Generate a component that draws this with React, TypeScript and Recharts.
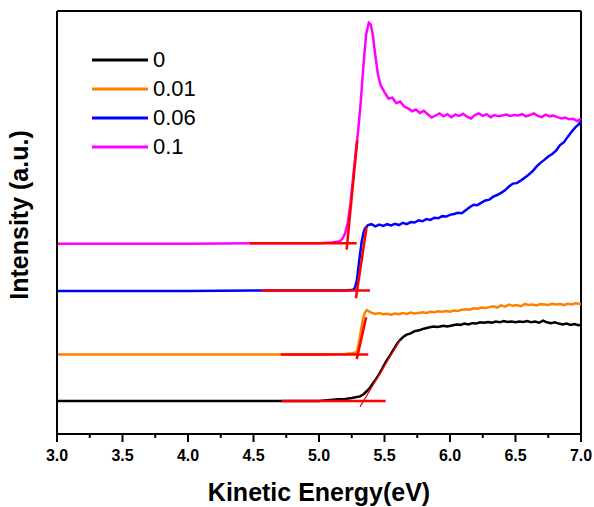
import React from 'react';
import { LineChart, Line, XAxis, YAxis, ReferenceLine, Legend } from 'recharts';

// kinetic energy (eV) / intensity (a.u.) pairs
const black0: [number, number][] = [
  [3.0, 7.8], [4.0, 7.8], [4.5, 7.8], [5.0, 7.8], [5.147, 8.2], [5.2, 8.3], [5.25, 8.5], [5.313, 8.9],
  [5.34, 9.4], [5.364, 10.1], [5.39, 11.0], [5.415, 12.1], [5.44, 13.2], [5.466, 14.5], [5.49, 15.9],
  [5.517, 17.4], [5.542, 18.6], [5.57, 20.0], [5.6, 21.5], [5.618, 22.2], [5.645, 23.0], [5.669, 23.5],
  [5.7, 23.8], [5.73, 24.3], [5.771, 24.6], [5.8, 24.9], [5.83, 25.1], [5.873, 25.4], [5.9, 25.3],
  [5.924, 25.4], [5.95, 25.6], [5.98, 25.4], [6.023, 25.7], [6.05, 25.9], [6.08, 25.8], [6.11, 26.1],
  [6.14, 25.9], [6.17, 26.2], [6.2, 26.1], [6.23, 26.4], [6.26, 26.3], [6.29, 26.5], [6.32, 26.3],
  [6.35, 26.6], [6.38, 26.4], [6.41, 26.7], [6.44, 26.5], [6.47, 26.6], [6.5, 26.4], [6.53, 26.6],
  [6.56, 26.5], [6.59, 26.7], [6.62, 26.4], [6.65, 26.6], [6.68, 26.3], [6.71, 26.8], [6.74, 26.4],
  [6.77, 26.2], [6.8, 26.4], [6.83, 26.1], [6.86, 25.9], [6.89, 26.1], [6.92, 25.8], [6.95, 26.0],
  [6.98, 25.7], [7.0, 25.8],
];

const orange001: [number, number][] = [
  [3.0, 18.8], [4.5, 18.8], [5.0, 18.8], [5.2, 18.9], [5.25, 19.1], [5.28, 19.3], [5.29, 19.6],
  [5.3, 20.8], [5.31, 22.6], [5.32, 24.4], [5.33, 26.2], [5.34, 27.7], [5.35, 28.7], [5.365, 29.3],
  [5.38, 29.0], [5.4, 28.7], [5.43, 28.4], [5.46, 28.6], [5.49, 28.3], [5.52, 28.4], [5.55, 28.2],
  [5.58, 28.5], [5.61, 28.3], [5.64, 28.6], [5.67, 28.4], [5.7, 28.7], [5.73, 28.5], [5.76, 28.6],
  [5.79, 28.8], [5.82, 28.6], [5.85, 28.9], [5.88, 28.8], [5.91, 29.0], [5.94, 28.9], [5.97, 29.1],
  [6.0, 28.9], [6.03, 29.2], [6.06, 29.1], [6.09, 29.4], [6.12, 29.5], [6.15, 29.4], [6.18, 29.7],
  [6.21, 29.6], [6.24, 29.9], [6.27, 29.8], [6.3, 30.0], [6.33, 30.2], [6.36, 29.9], [6.39, 30.4],
  [6.42, 30.1], [6.45, 30.6], [6.48, 30.3], [6.51, 30.5], [6.54, 30.2], [6.57, 30.7], [6.6, 30.5],
  [6.63, 30.6], [6.66, 30.4], [6.69, 30.7], [6.72, 30.6], [6.75, 30.5], [6.78, 30.8], [6.81, 30.6],
  [6.84, 30.7], [6.87, 30.5], [6.9, 30.8], [6.93, 30.6], [6.96, 30.9], [7.0, 30.7],
];

const blue006: [number, number][] = [
  [3.0, 33.8], [4.0, 33.8], [4.5, 33.9], [5.0, 33.9], [5.2, 33.9], [5.26, 34.1], [5.275, 34.6],
  [5.29, 36.5], [5.3, 39.2], [5.313, 42.5], [5.326, 45.5], [5.34, 47.6], [5.351, 48.6], [5.374, 49.4],
  [5.4, 49.6], [5.43, 49.1], [5.46, 49.5], [5.49, 49.2], [5.52, 49.6], [5.55, 49.3], [5.58, 49.7],
  [5.61, 49.4], [5.64, 49.9], [5.67, 49.6], [5.7, 50.1], [5.73, 50.0], [5.76, 50.5], [5.79, 50.3],
  [5.82, 50.8], [5.85, 50.6], [5.88, 51.1], [5.91, 51.0], [5.94, 51.5], [5.97, 51.4], [6.0, 51.8],
  [6.03, 52.0], [6.06, 52.3], [6.09, 52.2], [6.12, 52.9], [6.15, 53.6], [6.18, 54.2], [6.21, 54.1],
  [6.24, 54.7], [6.27, 55.2], [6.3, 55.4], [6.33, 56.1], [6.36, 56.5], [6.39, 57.0], [6.42, 57.6],
  [6.45, 58.5], [6.48, 59.2], [6.51, 59.3], [6.54, 59.9], [6.57, 60.6], [6.6, 61.3], [6.63, 62.1],
  [6.66, 63.2], [6.69, 64.1], [6.72, 64.8], [6.75, 65.6], [6.78, 66.2], [6.81, 67.0], [6.84, 68.3],
  [6.87, 69.0], [6.9, 70.3], [6.93, 71.5], [6.96, 72.6], [6.98, 73.1], [7.0, 74.0],
];

const magenta01: [number, number][] = [
  [3.0, 45.0], [4.0, 45.0], [4.5, 45.1], [5.0, 45.1], [5.1, 45.3], [5.16, 45.6], [5.18, 46.2],
  [5.2, 47.5], [5.22, 50.0], [5.24, 54.5], [5.26, 60.5], [5.28, 66.5], [5.3, 72.0], [5.32, 79.0],
  [5.34, 87.5], [5.36, 94.5], [5.38, 97.2], [5.395, 96.8], [5.41, 94.5], [5.43, 89.5], [5.45, 85.0],
  [5.47, 82.5], [5.5, 80.8], [5.53, 79.3], [5.56, 79.5], [5.59, 78.2], [5.62, 78.6], [5.65, 77.4],
  [5.68, 77.0], [5.71, 76.3], [5.74, 76.7], [5.77, 75.9], [5.8, 76.4], [5.83, 75.6], [5.86, 74.8],
  [5.89, 75.3], [5.92, 75.8], [5.95, 75.1], [5.98, 75.6], [6.01, 74.9], [6.04, 75.5], [6.07, 75.2],
  [6.1, 75.7], [6.13, 75.0], [6.16, 74.6], [6.19, 75.4], [6.22, 75.8], [6.25, 75.2], [6.28, 75.6],
  [6.31, 74.9], [6.34, 75.4], [6.37, 75.1], [6.4, 75.3], [6.43, 75.5], [6.46, 75.2], [6.49, 75.4],
  [6.52, 75.3], [6.55, 75.6], [6.58, 75.1], [6.61, 75.4], [6.64, 75.8], [6.67, 75.2], [6.7, 74.9],
  [6.73, 75.5], [6.76, 75.1], [6.79, 75.3], [6.82, 74.9], [6.85, 74.6], [6.88, 74.8], [6.91, 74.4],
  [6.94, 74.5], [6.97, 74.0], [7.0, 74.6],
];

// red onset fits: baseline + tangent of the rising edge
const fitBaselines: [number, number][][] = [
  [[4.715, 7.8], [5.509, 7.8]],
  [[4.708, 18.8], [5.376, 18.8]],
  [[4.56, 33.9], [5.389, 33.9]],
  [[4.473, 45.1], [5.288, 45.1]],
];
const fitTangents: [number, number][][] = [
  [[5.313, 6.4], [5.618, 22.2]],
  [[5.288, 17.7], [5.36, 27.6]],
  [[5.282, 32.1], [5.364, 49.0]],
  [[5.211, 43.6], [5.292, 69.4]],
];

const seriesNames = ['0', '0.01', '0.06', '0.1'];
const seriesColors = ['#000000', '#ff7f00', '#0000ff', '#ff00ff'];
const seriesData = [black0, orange001, blue006, magenta01];

const xTicks = [3, 3.25, 3.5, 3.75, 4, 4.25, 4.5, 4.75, 5, 5.25, 5.5, 5.75, 6, 6.25, 6.5, 6.75, 7];

const FONT = '"Liberation Sans", Arial, sans-serif';
const AXIS_Y = 434; // bottom edge of plot area (507 - 73)

const toPoints = (arr: [number, number][]) => arr.map(([x, y]) => ({ x, y }));

const EnergyTick = (props: any) => {
  const { x, payload } = props;
  const v = payload.value as number;
  const major = Math.abs(v * 2 - Math.round(v * 2)) < 1e-6;
  return (
    <g>
      <line x1={x} x2={x} y1={AXIS_Y} y2={AXIS_Y + (major ? 8 : 4)} stroke="#000" strokeWidth={2} />
      {major && (
        <text x={x} y={AXIS_Y + 27} textAnchor="middle" fontFamily={FONT} fontSize={16} fontWeight="bold" fill="#000">
          {v.toFixed(1)}
        </text>
      )}
    </g>
  );
};

const LegendBox = (props: any) => {
  const items = (props.payload || []).filter((p: any) => p.type !== 'none');
  return (
    <div style={{ fontFamily: FONT, fontSize: 22, color: '#000' }}>
      {items.map((p: any) => (
        <div key={p.value} style={{ display: 'flex', alignItems: 'center', height: 29 }}>
          <svg width={56} height={6} style={{ display: 'block' }}>
            <line x1={0} x2={56} y1={3} y2={3} stroke={p.color} strokeWidth={3} />
          </svg>
          <span style={{ marginLeft: 5, lineHeight: '29px' }}>{p.value}</span>
        </div>
      ))}
    </div>
  );
};

export default function App() {
  return (
    <div style={{ position: 'fixed', left: 0, top: 0, width: 594, height: 507, background: '#fff' }}>
      <LineChart width={594} height={507} margin={{ top: 11, right: 13, left: 0, bottom: 0 }}>
        <XAxis
          type="number"
          dataKey="x"
          domain={[3, 7]}
          ticks={xTicks}
          interval={0}
          tick={<EnergyTick />}
          tickLine={false}
          tickSize={0}
          tickMargin={0}
          height={73}
          axisLine={{ stroke: '#000', strokeWidth: 2 }}
        />
        <YAxis
          type="number"
          domain={[0, 100]}
          allowDataOverflow
          width={57}
          tick={false}
          tickLine={false}
          axisLine={{ stroke: '#000', strokeWidth: 2 }}
          label={() => (
            <g>
              <text
                x={28}
                y={215}
                transform="rotate(-90 28 215)"
                textAnchor="middle"
                fontFamily={FONT}
                fontSize={25}
                fontWeight="bold"
                fill="#000"
              >
                Intensity (a.u.)
              </text>
              <text x={319} y={501} textAnchor="middle" fontFamily={FONT} fontSize={25} fontWeight="bold" fill="#000">
                Kinetic Energy(eV)
              </text>
            </g>
          )}
        />
        <ReferenceLine y={100} stroke="#000" strokeWidth={2} />
        <ReferenceLine x={7} stroke="#000" strokeWidth={2} />
        {seriesData.map((d, i) => (
          <Line
            key={seriesNames[i]}
            name={seriesNames[i]}
            data={toPoints(d)}
            dataKey="y"
            type="linear"
            stroke={seriesColors[i]}
            strokeWidth={2.5}
            dot={false}
            isAnimationActive={false}
          />
        ))}
        {fitBaselines.map((d, i) => (
          <Line
            key={`base-${i}`}
            data={toPoints(d)}
            dataKey="y"
            stroke="#ff0000"
            strokeWidth={2.5}
            dot={false}
            legendType="none"
            isAnimationActive={false}
          />
        ))}
        {fitTangents.map((d, i) => (
          <Line
            key={`tan-${i}`}
            data={toPoints(d)}
            dataKey="y"
            stroke="#ff0000"
            strokeWidth={i === 0 ? 1.2 : 2.5}
            dot={false}
            legendType="none"
            isAnimationActive={false}
          />
        ))}
        <Legend
          layout="vertical"
          align="center"
          verticalAlign="middle"
          content={<LegendBox />}
          wrapperStyle={{ left: 92, top: 45, width: 'auto', height: 'auto' }}
        />
      </LineChart>
    </div>
  );
}
